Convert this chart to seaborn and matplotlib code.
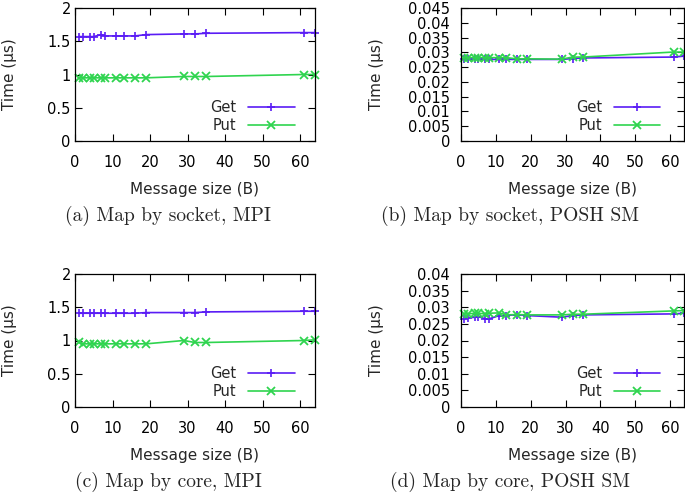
import matplotlib
matplotlib.use('Agg')
import matplotlib.pyplot as plt
import matplotlib.ticker as mticker
import seaborn as sb
import numpy as np
import pandas as pd

# message sizes (B)
sizes = [1, 2, 4, 5, 7, 8, 11, 13, 16, 19, 29, 32, 35, 61, 64]

# (a) map by socket, MPI
get_a = [1.57, 1.57, 1.57, 1.57, 1.60, 1.58, 1.58, 1.58, 1.58, 1.60,
         1.61, 1.61, 1.62, 1.63, 1.63]
put_a = [0.95, 0.95, 0.95, 0.95, 0.95, 0.95, 0.95, 0.95, 0.95, 0.95,
         0.97, 0.97, 0.97, 1.00, 1.00]
# (b) map by socket, POSH SM
get_b = [0.0276, 0.0276, 0.0276, 0.0276, 0.0276, 0.0276, 0.0276, 0.0276,
         0.0276, 0.0276, 0.0276, 0.0279, 0.0281, 0.0284, 0.0287]
put_b = [0.0282, 0.0282, 0.0282, 0.0282, 0.0282, 0.0282, 0.0282, 0.0282,
         0.0278, 0.0278, 0.0277, 0.0284, 0.0284, 0.0301, 0.0301]
# (c) map by core, MPI
get_c = [1.41, 1.41, 1.41, 1.41, 1.41, 1.41, 1.41, 1.41, 1.41, 1.42,
         1.42, 1.42, 1.43, 1.44, 1.44]
put_c = [0.97, 0.95, 0.95, 0.95, 0.95, 0.95, 0.95, 0.95, 0.95, 0.95,
         1.00, 0.97, 0.97, 1.00, 1.01]
# (d) map by core, POSH SM
get_d = [0.0265, 0.0268, 0.0270, 0.0272, 0.0265, 0.0265, 0.0275, 0.0275,
         0.0278, 0.0275, 0.0270, 0.0275, 0.0277, 0.0280, 0.0282]
put_d = [0.0280, 0.0280, 0.0282, 0.0282, 0.0280, 0.0282, 0.0283, 0.0277,
         0.0278, 0.0277, 0.0277, 0.0279, 0.0279, 0.0289, 0.0290]

captions = ['(a) Map by socket, MPI', '(b) Map by socket, POSH SM',
            '(c) Map by core, MPI', '(d) Map by core, POSH SM']
ylims = [(0, 2), (0, 0.045), (0, 2), (0, 0.04)]
ysteps = [0.5, 0.005, 0.5, 0.005]

c_get = '#5a1cf5'
c_put = '#2fd44f'

sb.set_style('ticks')
plt.rcParams['font.family'] = ['DejaVu Sans']

fig = plt.figure(figsize=(6.85, 4.95), dpi=100)
W, H = 685.0, 495.0
# axes boxes in pixels: left, top, right, bottom
boxes = [(75, 8, 315, 141), (461, 8, 684, 141),
         (75, 274, 315, 407), (461, 274, 684, 407)]
# caption centres in pixels
cap_pos = [(168, 216), (510, 216), (168, 482), (510, 482)]
leg_x = [0.94, 0.92, 0.94, 0.92]
ypads = [3, 8, 3, 8]
data = [(get_a, put_a), (get_b, put_b), (get_c, put_c), (get_d, put_d)]

for i in range(4):
    l, t, r, b = boxes[i]
    ax = fig.add_axes([l / W, 1 - b / H, (r - l) / W, (b - t) / H])
    df = pd.DataFrame({'size': sizes, 'Get': data[i][0], 'Put': data[i][1]})
    sb.lineplot(data=df, x='size', y='Get', ax=ax, color=c_get, marker='+',
                markersize=6, markeredgewidth=1.2, markeredgecolor=c_get,
                linewidth=1.2, label='Get', clip_on=False)
    sb.lineplot(data=df, x='size', y='Put', ax=ax, color=c_put, marker='x',
                markersize=5.5, markeredgewidth=1.3, markeredgecolor=c_put,
                linewidth=1.2, label='Put', clip_on=False)
    ax.set_xlim(0, 64)
    ax.set_ylim(*ylims[i])
    ax.xaxis.set_major_locator(mticker.MultipleLocator(10))
    ax.yaxis.set_major_locator(mticker.MultipleLocator(ysteps[i]))
    ax.yaxis.set_major_formatter(mticker.FuncFormatter(lambda v, p: '%g' % round(v, 4)))
    ax.tick_params(direction='in', top=True, right=True, length=5,
                   width=0.8, labelsize=10.5, colors='black')
    ax.tick_params(axis='x', pad=10)
    ax.tick_params(axis='y', pad=ypads[i])
    for s in ax.spines.values():
        s.set_linewidth(0.9)
        s.set_color('black')
    ax.set_xlabel('Message size (B)', fontsize=11, labelpad=9)
    ax.set_ylabel('Time (µs)', fontsize=11,
                  labelpad=20 - (ypads[i] - 5) * 1.0)
    ax.legend(loc='lower right', frameon=False, markerfirst=False,
              fontsize=10.5, handlelength=3.2, borderaxespad=0,
              labelspacing=0.2, handletextpad=0.8,
              bbox_to_anchor=(leg_x[i], 0.015))
    fig.text(cap_pos[i][0] / W, 1 - cap_pos[i][1] / H, captions[i],
             ha='center', va='center', fontsize=14, fontfamily='cmr10')

fig.savefig('out.png', dpi=100)
